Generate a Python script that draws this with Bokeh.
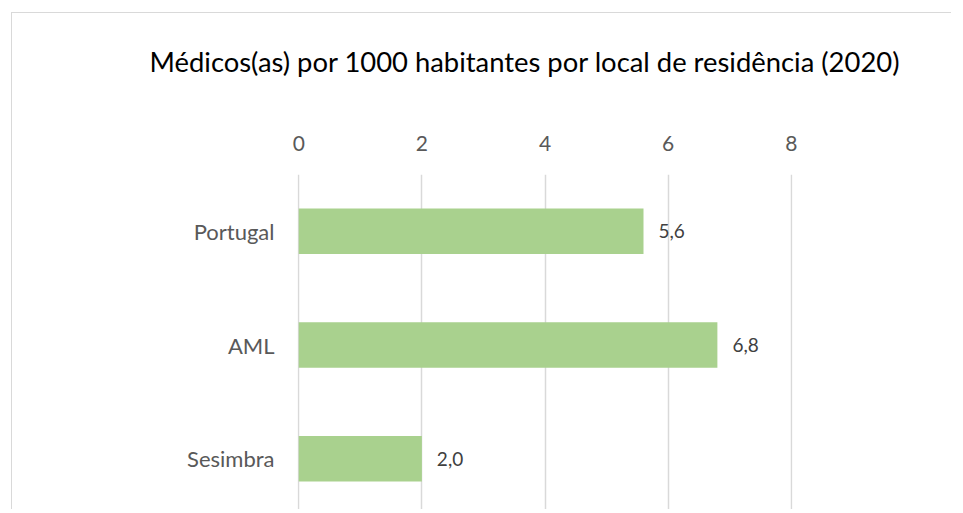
from bokeh.plotting import figure
from bokeh.models import Range1d, FixedTicker, ColumnDataSource, LinearAxis
from bokeh.core.properties import value
from bokeh.embed import file_html
from bokeh.resources import INLINE

# ---- data ----
categories = ["Portugal", "AML", "Sesimbra"]
values = [5.6, 6.8, 2.0]
x_ticks = [0, 2, 4, 6, 8]
title_text = "Médicos(as) por 1000 habitantes por local de residência (2020)"

n = len(categories)
ypos = [n - 1 - i for i in range(n)]          # Portugal on top
labels = [f"{v:.1f}".replace(".", ",") for v in values]
src = ColumnDataSource(dict(y=ypos, val=values, lab=labels))

FONT = "Lato"

p = figure(
    width=940, height=497,
    y_range=Range1d(-0.456, n - 0.5),
    x_range=Range1d(-0.02, 8.02),
    x_axis_location="above",
    output_backend="svg", toolbar_location=None,
    min_border_left=285, min_border_right=160, min_border_top=161, min_border_bottom=0,
)
p.margin = (12, 0, 0, 11)
p.styles = {"border-left": "1px solid #d9d9d9", "border-top": "1px solid #d9d9d9"}
p.outline_line_color = None
p.background_fill_color = "white"
p.border_fill_color = "white"

p.hbar(y="y", right="val", left=0, height=0.4, source=src,
       fill_color="#a9d18e", line_color=None)

p.text(x="val", y="y", text="lab", source=src, x_offset=15,
       text_baseline="middle", text_align="left",
       text_font=value(FONT), text_font_size="19px", text_color="#404040")

# title
p.title.text = title_text
p.title.align = "left"
p.title.offset = -148
p.title.text_font = FONT
p.title.text_font_size = "27.4px"
p.title.text_font_style = "normal"
p.title.text_color = "#000000"
p.title.standoff = 53

# x axis (top)
xa = p.xaxis[0]
xa.ticker = FixedTicker(ticks=x_ticks)
xa.axis_line_color = None
xa.major_tick_line_color = None
xa.minor_tick_line_color = None
xa.major_label_text_font = FONT
xa.major_label_text_font_size = "21px"
xa.major_label_text_color = "#595959"
xa.major_label_standoff = 18

# invisible spacer between the tick labels and the title
mid = x_ticks[len(x_ticks) // 2]
spacer = LinearAxis(ticker=FixedTicker(ticks=[mid]), axis_line_color=None,
                    major_tick_line_color=None, minor_tick_line_color=None,
                    major_tick_out=28, major_tick_in=0, minor_tick_out=0,
                    major_label_standoff=0, major_label_text_font_size="1px",
                    major_label_overrides={mid: ""})
p.add_layout(spacer, "above")

# y axis (category labels)
ya = p.yaxis[0]
ya.ticker = FixedTicker(ticks=ypos)
ya.major_label_overrides = {y: c for y, c in zip(ypos, categories)}
ya.axis_line_color = None
ya.major_tick_line_color = None
ya.minor_tick_line_color = None
ya.major_label_text_font = FONT
ya.major_label_text_font_size = "22px"
ya.major_label_text_color = "#595959"
ya.major_label_standoff = 17

p.xgrid.ticker = FixedTicker(ticks=x_ticks)
p.xgrid.grid_line_color = "#d9d9d9"
p.xgrid.grid_line_width = 1.5
p.ygrid.grid_line_color = None

open("out.html", "w").write(file_html(p, INLINE))
